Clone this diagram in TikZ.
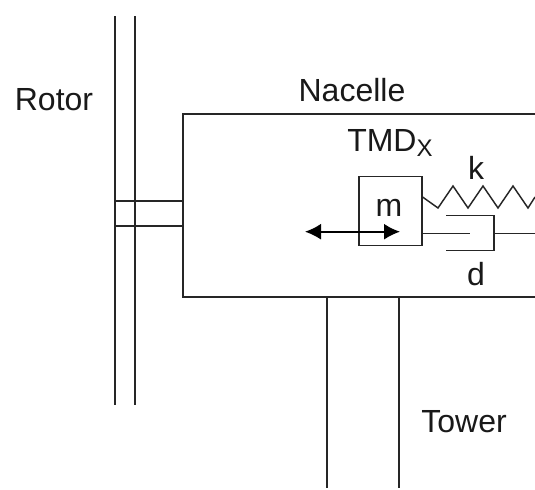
\documentclass[tikz,border=0pt]{standalone}
\usepackage{fontspec}
\setmainfont{Liberation Sans}
\usetikzlibrary{arrows.meta}
\tikzset{
  ln/.style={draw=black!85,line width=0.95pt,line cap=butt},
  thin ln/.style={draw=black!85,line width=1.1pt},
  lbl/.style={inner sep=0pt,text=black!90,font=\fontsize{24}{26}\selectfont,anchor=base},
  mass/.style={draw=black!85,line width=1.1pt,inner sep=0pt,minimum width=47pt,minimum height=51.75pt},
  move/.style={draw=black,line width=1.3pt,{Latex[length=12pt,width=12pt]}-{Latex[length=12pt,width=12pt]}}
}
\begin{document}
\begin{tikzpicture}[x=0.75pt,y=-0.75pt]
\useasboundingbox (0,0) rectangle (535,489);
% rotor
\coordinate (r1t) at (115,16); \coordinate (r1b) at (115,405);
\coordinate (r2t) at (135,16); \coordinate (r2b) at (135,405);
\draw[ln] (r1t) -- (r1b);
\draw[ln] (r2t) -- (r2b);
% nacelle
\coordinate (ntr) at (535,114); \coordinate (ntl) at (183,114);
\coordinate (nbl) at (183,297); \coordinate (nbr) at (535,297);
\draw[ln] (ntr) -- (ntl) -- (nbl) -- (nbr);
% shaft
\coordinate (s1l) at (115,201); \coordinate (s1r) at (183,201);
\coordinate (s2l) at (115,226); \coordinate (s2r) at (183,226);
\draw[ln] (s1l) -- (s1r);
\draw[ln] (s2l) -- (s2r);
% tower
\coordinate (t1t) at (327,297); \coordinate (t1b) at (327,488);
\coordinate (t2t) at (399,297); \coordinate (t2b) at (399,488);
\draw[ln] (t1t) -- (t1b);
\draw[ln] (t2t) -- (t2b);
% mass
\node[mass] (m) at (390.5,211) {};
\node[lbl] (mtxt) at (389,216) {m};
% arrow
\coordinate (al) at (305,231.7); \coordinate (ar) at (400,231.7);
\draw[move] (al) -- (ar);
% spring
\coordinate (sp0) at (m.east |- 0,197);
\coordinate (sp1) at (535,197);
\draw[thin ln] (sp0) -- (438,208) -- (453,186) -- (468,208) -- (483,186) -- (498,208) -- (513,186) -- (528,208) -- (sp1);
% damper
\coordinate (d0) at (m.east |- 0,233.7);
\coordinate (d1) at (470,233.7);
\draw[thin ln] (d0) -- (d1);
\coordinate (ct) at (446,215.7); \coordinate (cb) at (446,250.3);
\coordinate (ctr) at (494,215.7); \coordinate (cbr) at (494,250.3);
\draw[thin ln] (ct) -- (ctr) -- (cbr) -- (cb);
\coordinate (dm) at (494,233.7); \coordinate (de) at (535,233.7);
\draw[thin ln] (dm) -- (de);
% labels
\node[lbl] (rotor) at (54,110) {Rotor};
\node[lbl] (nacelle) at (352,101) {Nacelle};
\node[lbl,anchor=base west] (tmd) at (347,151) {TMD\textsubscript{\fontsize{18}{18}\selectfont X}};
\node[lbl] (k) at (476,179) {k};
\node[lbl] (d) at (476,285) {d};
\node[lbl] (tower) at (464,432) {Tower};
\end{tikzpicture}
\end{document}
